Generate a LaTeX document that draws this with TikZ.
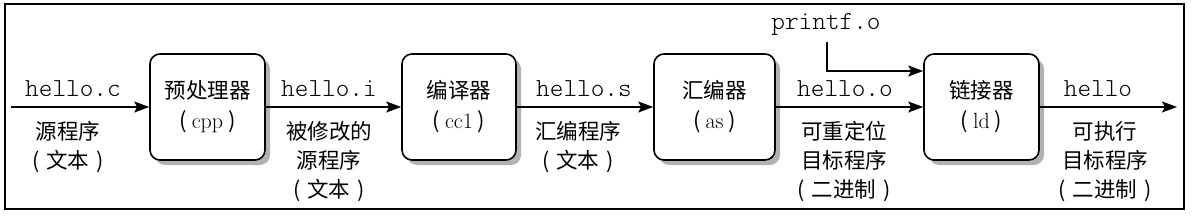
\documentclass[tikz,border=0pt]{standalone}
\usepackage{fontspec}
\setmonofont{Latin Modern Mono Light}
\newfontfamily\cjk{Noto Sans CJK SC}
\usetikzlibrary{arrows.meta,shadows}
\newcommand{\lp}{{\cjk (}\hspace{7pt}}
\newcommand{\rp}{\hspace{7pt}{\cjk )}}
\newcommand{\blp}{{\cjk (}\hspace{5pt}}
\newcommand{\brp}{\hspace{5pt}{\cjk )}}
\begin{document}
\begin{tikzpicture}[x=1pt,y=-1pt,
  procbox/.style={draw=black,line width=1.6pt,rounded corners=10pt,fill=white,
    minimum height=106pt,inner sep=0pt,align=center,
    font=\fontsize{22}{30}\selectfont,
    drop shadow={shadow xshift=5pt,shadow yshift=-5pt,fill=black!30,opacity=1}},
  arr/.style={line width=1.6pt,-{Stealth[length=15pt,width=11pt,inset=3pt]}},
  fname/.style={anchor=base,inner sep=0pt,font=\fontsize{26}{28}\selectfont\ttfamily},
  desc/.style={anchor=north,inner sep=0pt,align=center,font=\fontsize{21.5}{29}\selectfont\cjk},
]
\useasboundingbox (0,0) rectangle (1195,217);
\draw[line width=1.4pt] (5,4) rectangle (1184,209);

\node[procbox,minimum width=115pt] (b1) at (207.5,107) {{\fontsize{21.5}{30}\selectfont\cjk 预处理器}\\\blp cpp\brp};
\node[procbox,minimum width=114pt] (b2) at (459,107) {{\fontsize{21.5}{30}\selectfont\cjk 编译器}\\\blp cc1\brp};
\node[procbox,minimum width=121pt] (b3) at (714.5,107) {{\fontsize{21.5}{30}\selectfont\cjk 汇编器}\\\blp as\brp};
\node[procbox,minimum width=115pt] (b4) at (981.5,107) {{\fontsize{21.5}{30}\selectfont\cjk 链接器}\\\blp ld\brp};

\coordinate (in) at (11,107);
\coordinate (out) at (1177,107);
\coordinate (pfa) at (827,42);

\draw[arr] (in) -- (b1.west);
\draw[arr] (b1.east) -- (b2.west);
\draw[arr] (b2.east) -- (b3.west);
\draw[arr] (b3.east) -- (b4.west);
\draw[arr] (b4.east) -- (out);
\draw[arr] (pfa) |- ([yshift=36pt]b4.west);

\node[fname] (lc) at (73,96) {hello.c};
\node[fname] (li) at (329,96) {hello.i};
\node[fname] (ls) at (584,96) {hello.s};
\node[fname] (lo) at (845,96) {hello.o};
\node[fname] (lh) at (1098,96) {hello};
\node[fname] (lp) at (826,29) {printf.o};

\node[desc] (dc) at (68,121) {源程序\\\lp 文本\rp};
\node[desc] (di) at (329,121) {被修改的\\源程序\\\lp 文本\rp};
\node[desc] (ds) at (578,121) {汇编程序\\\lp 文本\rp};
\node[desc] (do) at (844,121) {可重定位\\目标程序\\\lp 二进制\rp};
\node[desc] (dh) at (1105,121) {可执行\\目标程序\\\lp 二进制\rp};
\end{tikzpicture}
\end{document}
